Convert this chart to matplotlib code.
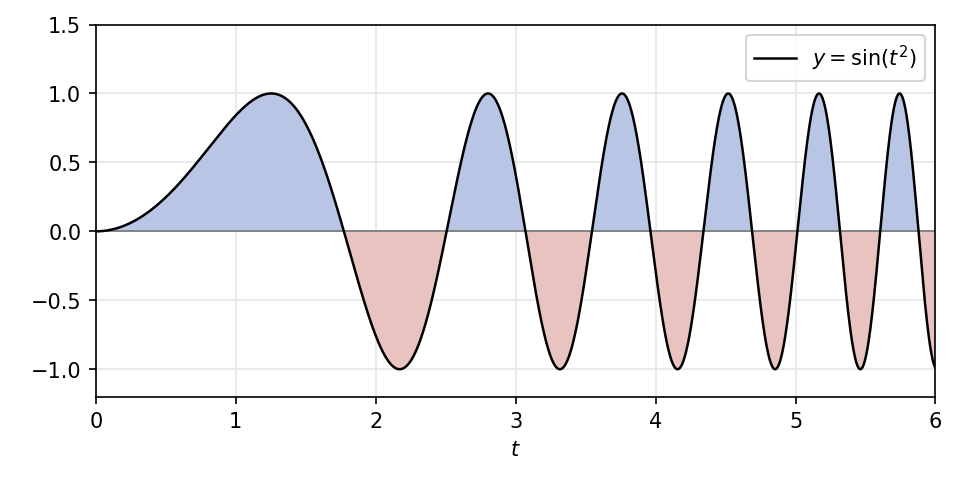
import numpy as np
import matplotlib
matplotlib.use("Agg")
import matplotlib.pyplot as plt

# curve definition: y = sin(t^2) on [0, 6]
t_min, t_max = 0.0, 6.0
n_points = 2000
t = np.linspace(t_min, t_max, n_points)
y = np.sin(t ** 2)

fig, ax = plt.subplots(figsize=(6.39, 3.27), dpi=150)

ax.fill_between(t, 0, y, where=y >= 0, color="#b9c5e4", interpolate=True, lw=0)
ax.fill_between(t, 0, y, where=y <= 0, color="#e8c3c0", interpolate=True, lw=0)
ax.axhline(0, color="gray", lw=0.9)
ax.plot(t, y, color="black", lw=1.2, label=r"$y = \sin(t^2)$")

ax.set_xlim(0, 6)
ax.set_ylim(-1.2, 1.5)
ax.set_yticks([-1.0, -0.5, 0.0, 0.5, 1.0, 1.5])
ax.set_xlabel(r"$t$")
ax.grid(True, color="#e6e6e6", lw=0.8)
ax.set_axisbelow(True)
ax.legend(loc="upper right")

fig.subplots_adjust(left=0.1, right=0.976, top=0.949, bottom=0.19)
fig.savefig("out.png", dpi=150)
